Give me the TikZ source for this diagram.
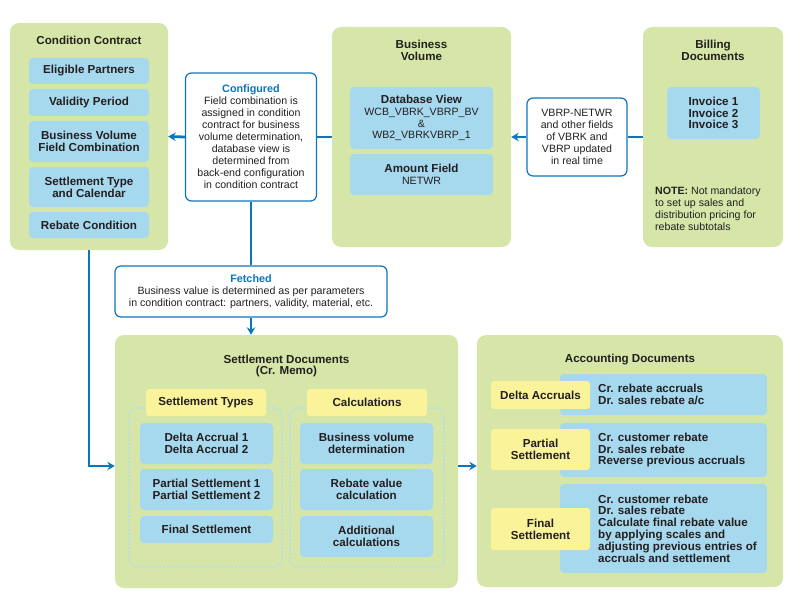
\documentclass[tikz,border=0pt]{standalone}
\usepackage{fontspec}
\setmainfont{Liberation Sans}
\usetikzlibrary{arrows.meta, positioning}

\definecolor{boxgreen}{RGB}{214,230,168}
\definecolor{boxblue}{RGB}{166,216,238}
\definecolor{boxyellow}{RGB}{251,243,154}
\definecolor{flowblue}{RGB}{11,117,190}
\definecolor{txtdark}{RGB}{35,31,32}

\newcommand\boxbf{\fontsize{11.6}{11.8}\selectfont\bfseries}
\newcommand\boxrm{\fontsize{10.6}{12}\selectfont\mdseries}
\newcommand\boxhead{\fontsize{10.8}{12}\selectfont\bfseries}

\begin{document}
\begin{tikzpicture}[x=1pt, y=-1pt,
  every node/.style={text=txtdark},
  panel/.style={fill=boxgreen, rounded corners=9pt, inner sep=0pt},
  item/.style={fill=boxblue, rounded corners=4pt, inner sep=0pt, align=center, font=\boxbf},
  tag/.style={fill=boxyellow, rounded corners=3pt, inner sep=0pt, align=center, font=\boxbf},
  info/.style={draw=flowblue, line width=1.2pt, fill=white, rounded corners=6pt, inner sep=0pt, align=center, font=\boxrm},
  group/.style={draw=boxblue!85!white, dotted, line width=1.6pt, rounded corners=8pt, inner sep=0pt},
  title/.style={font=\boxbf, align=center},
  flow/.style={draw=flowblue, line width=2.8pt},
  arrow/.style={flow, -{Stealth[length=7.5pt, width=8.5pt]}}
]
\useasboundingbox (0,0) rectangle (800,607);

% Condition contract
\node[panel, minimum width=158pt, minimum height=227pt] (cc) at (89,136.5) {};
\node[title] (cctitle) at (89,40) {Condition Contract};
\node[item, minimum width=120pt, minimum height=26pt] (ep) at (89,71) {Eligible Partners};
\node[item, minimum width=120pt, minimum height=27pt] (vp) at (89,102.5) {Validity Period};
\node[item, minimum width=120pt, minimum height=41pt] (bvfc) at (89,141.5) {Business Volume\\Field Combination};
\node[item, minimum width=120pt, minimum height=40pt] (stc) at (89,187) {Settlement Type\\and Calendar};
\node[item, minimum width=120pt, minimum height=26pt] (rc) at (89,225) {Rebate Condition};

% Business volume
\node[panel, minimum width=179pt, minimum height=220pt] (bv) at (421.5,137) {};
\node[title] (bvtitle) at (421.5,50) {Business\\Volume};
\node[item, minimum width=143pt, minimum height=62pt] (db) at (421.5,118)
  {Database View\\{\boxrm WCB\_VBRK\_VBRP\_BV}\\{\boxrm\&}\\{\boxrm WB2\_VBRKVBRP\_1}};
\node[item, minimum width=143pt, minimum height=41pt] (amt) at (421.5,174.5) {Amount Field\\{\boxrm NETWR}};

% Billing documents
\node[panel, minimum width=140pt, minimum height=220pt] (bill) at (713,137) {};
\node[title] (billtitle) at (713,50) {Billing\\Documents};
\node[item, minimum width=93pt, minimum height=52pt] (inv) at (713.5,113) {Invoice 1\\Invoice 2\\Invoice 3};
\node[anchor=north west, inner sep=0pt, align=left, font=\boxrm] (note) at (655,187)
  {\textbf{NOTE:} Not mandatory\\to set up sales and\\distribution pricing for\\rebate subtotals};

% Notes on the connectors
\node[info, minimum width=131pt, minimum height=128pt] (conf) at (251,137)
  {{\boxhead\color{flowblue}Configured}\\Field combination is\\assigned in condition\\contract for business\\volume determination,\\database view is\\determined from\\back-end configuration\\in condition contract};
\node[info, minimum width=100pt, minimum height=78pt] (vbrp) at (577,137)
  {VBRP-NETWR\\and other fields\\of VBRK and\\VBRP updated\\in real time};
\node[info, minimum width=272pt, minimum height=51pt] (fetch) at (251,291.5)
  {{\boxhead\color{flowblue}Fetched}\\Business value is determined as per parameters\\in condition contract: partners, validity, material, etc.};

% Settlement documents
\node[panel, minimum width=343pt, minimum height=253pt] (sd) at (286.5,461.5) {};
\node[title] (sdtitle) at (286.5,366) {Settlement Documents\\(Cr. Memo)};
\node[group, minimum width=153pt, minimum height=159pt] (stgroup) at (205.5,487.5) {};
\node[group, minimum width=154pt, minimum height=159pt] (calcgroup) at (367,487.5) {};
\node[tag, minimum width=120pt, minimum height=27pt] (sttag) at (206,402.5) {Settlement Types};
\node[tag, minimum width=120pt, minimum height=27pt] (calctag) at (367,402.5) {Calculations};
\node[item, minimum width=133pt, minimum height=41pt] (da) at (206.5,443.5) {Delta Accrual 1\\Delta Accrual 2};
\node[item, minimum width=133pt, minimum height=41pt] (ps) at (206.5,489.5) {Partial Settlement 1\\Partial Settlement 2};
\node[item, minimum width=133pt, minimum height=27pt] (fs) at (206.5,529.5) {Final Settlement};
\node[item, minimum width=133pt, minimum height=41pt] (bvd) at (366.5,443.5) {Business volume\\determination};
\node[item, minimum width=133pt, minimum height=41pt] (rvc) at (366.5,489.5) {Rebate value\\calculation};
\node[item, minimum width=133pt, minimum height=41pt] (addc) at (366.5,536.5) {Additional\\calculations};

% Accounting documents
\node[panel, minimum width=306pt, minimum height=252pt] (ad) at (630,461) {};
\node[title] (adtitle) at (630,360) {Accounting Documents};
\node[item, minimum width=207pt, minimum height=41pt] (acc1) at (663.5,394.5) {};
\node[item, minimum width=207pt, minimum height=54pt] (acc2) at (663.5,450) {};
\node[item, minimum width=207pt, minimum height=89pt] (acc3) at (663.5,528.5) {};
\node[tag, minimum width=99pt, minimum height=28pt] (dacc) at (540.5,395) {Delta Accruals};
\node[tag, minimum width=99pt, minimum height=41pt] (pset) at (540.5,449.5) {Partial\\Settlement};
\node[tag, minimum width=99pt, minimum height=42pt] (fset) at (540.5,529) {Final\\Settlement};
\node[anchor=west, inner sep=0pt, align=left, font=\boxbf] (acc1txt) at (598,394.5)
  {Cr. rebate accruals\\Dr. sales rebate a/c};
\node[anchor=west, inner sep=0pt, align=left, font=\boxbf] (acc2txt) at (598,450)
  {Cr. customer rebate\\Dr. sales rebate\\Reverse previous accruals};
\node[anchor=west, inner sep=0pt, align=left, font=\boxbf] (acc3txt) at (598,528.5)
  {Cr. customer rebate\\Dr. sales rebate\\Calculate final rebate value\\by applying scales and\\adjusting previous entries of\\accruals and settlement};

% Connectors
\coordinate (flowrow) at (0,466);
\draw[flow] (bill.west) -- (vbrp.east);
\draw[arrow] (vbrp.west) -- (bv.east);
\draw[flow] (bv.west) -- (conf.east);
\draw[arrow] (conf.west) -- (cc.east);
\draw[flow] (conf.south) -- (fetch.north);
\draw[arrow] (fetch.south) -- (fetch.south |- sd.north);
\draw[arrow] (cc.south) |- (sd.west |- flowrow);
\draw[arrow] (sd.east |- flowrow) -- (ad.west |- flowrow);

\end{tikzpicture}
\end{document}
